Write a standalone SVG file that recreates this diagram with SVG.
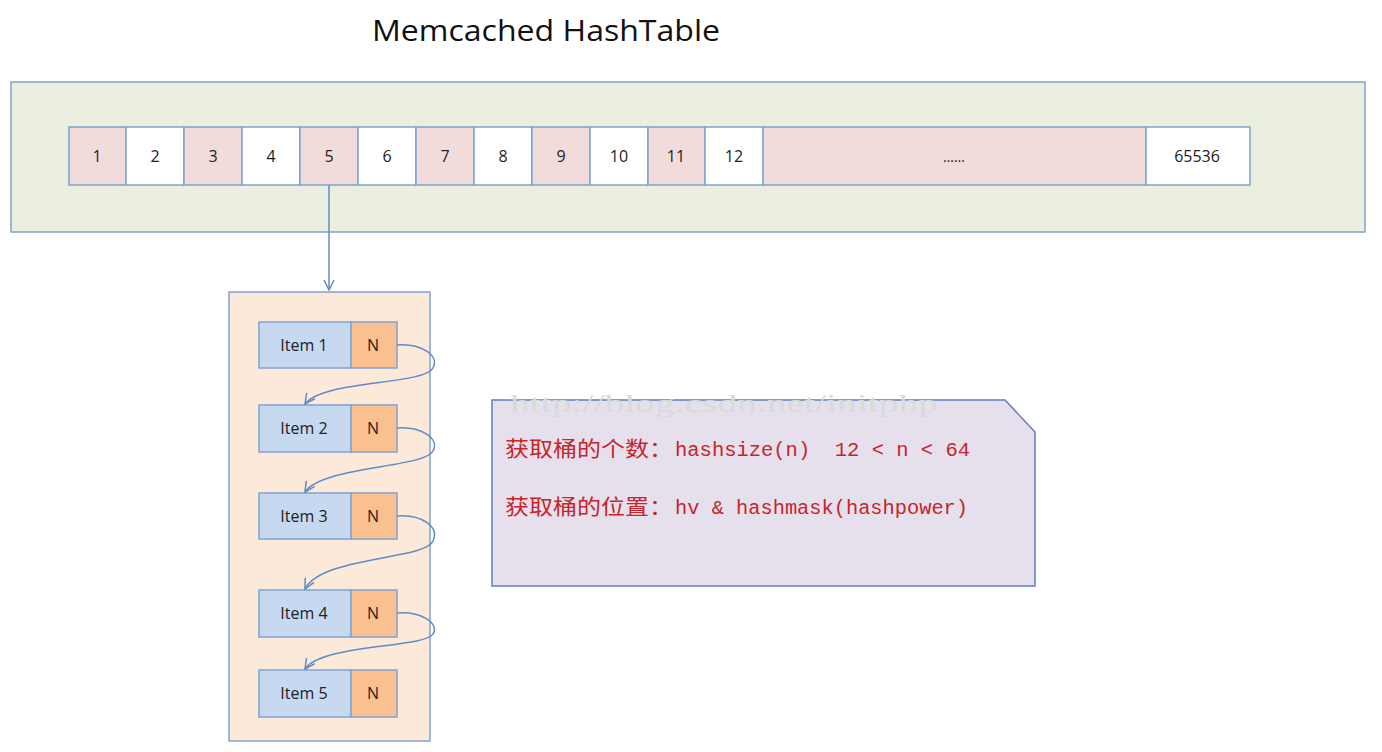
<svg xmlns="http://www.w3.org/2000/svg" width="1382" height="752" viewBox="0 0 1382 752">
<style>
.cell{stroke:#7fa3d0;stroke-width:1.5}
.pk{fill:#f2dcdb}
.wh{fill:#ffffff}
.ct{font-family:"Open Sans","Liberation Sans",sans-serif;font-size:16px;fill:#222;text-anchor:middle}
.item{fill:#c6d9f1;stroke:#7fa3d0;stroke-width:1.5}
.nb{fill:#fac090;stroke:#7fa3d0;stroke-width:1.5}
.conn{fill:none;stroke:#5f8cc4;stroke-width:1.5}
.cn{font-family:"Noto Sans CJK SC",sans-serif;font-size:21px;fill:#c8242c}
.mono{font-family:"Liberation Mono","DejaVu Sans Mono",monospace;font-size:20px;fill:#c8242c}
</style>
<defs>
<marker id="arr" viewBox="0 0 12 12" refX="11" refY="6" markerWidth="12" markerHeight="12" markerUnits="userSpaceOnUse" orient="auto">
<path d="M1,1 L11,6 L1,11" fill="none" stroke="#5f8cc4" stroke-width="1.5"/>
</marker>
</defs>
<rect width="1382" height="752" fill="#ffffff"/>
<text x="372" y="41" font-family="'Open Sans','Liberation Sans',sans-serif" font-size="30" fill="#111" textLength="348" lengthAdjust="spacingAndGlyphs">Memcached HashTable</text>

<g id="hashtable">
<rect x="11" y="82" width="1354" height="150" fill="#ebefdf" stroke="#7fa3d0" stroke-width="1.5"/>
<rect class="cell pk" x="69" y="127" width="57" height="58"/><text class="ct" x="97" y="162">1</text>
<rect class="cell wh" x="126" y="127" width="58" height="58"/><text class="ct" x="155" y="162">2</text>
<rect class="cell pk" x="184" y="127" width="58" height="58"/><text class="ct" x="213" y="162">3</text>
<rect class="cell wh" x="242" y="127" width="58" height="58"/><text class="ct" x="271" y="162">4</text>
<rect class="cell pk" x="300" y="127" width="58" height="58"/><text class="ct" x="329" y="162">5</text>
<rect class="cell wh" x="358" y="127" width="58" height="58"/><text class="ct" x="387" y="162">6</text>
<rect class="cell pk" x="416" y="127" width="58" height="58"/><text class="ct" x="445" y="162">7</text>
<rect class="cell wh" x="474" y="127" width="58" height="58"/><text class="ct" x="503" y="162">8</text>
<rect class="cell pk" x="532" y="127" width="58" height="58"/><text class="ct" x="561" y="162">9</text>
<rect class="cell wh" x="590" y="127" width="58" height="58"/><text class="ct" x="619" y="162">10</text>
<rect class="cell pk" x="648" y="127" width="57" height="58"/><text class="ct" x="676" y="162">11</text>
<rect class="cell wh" x="705" y="127" width="58" height="58"/><text class="ct" x="734" y="162">12</text>
<rect class="cell pk" x="763" y="127" width="383" height="58"/><text class="ct" x="954" y="162" style="font-size:14px">……</text>
<rect class="cell wh" x="1146" y="127" width="104" height="58"/><text class="ct" x="1197" y="162">65536</text>
</g>

<g id="list">
<rect x="229" y="292" width="201" height="449" fill="#fde9d9" stroke="#7fa3d0" stroke-width="1.5"/>
</g>
<g id="item1"><rect class="item" x="259" y="322" width="92" height="46"/><rect class="nb" x="351" y="322" width="46" height="46"/><text class="ct" x="304" y="351">Item 1</text><text class="ct" x="373" y="351">N</text></g>
<g id="item2"><rect class="item" x="259" y="405" width="92" height="47"/><rect class="nb" x="351" y="405" width="46" height="47"/><text class="ct" x="304" y="434">Item 2</text><text class="ct" x="373" y="434">N</text></g>
<g id="item3"><rect class="item" x="259" y="493" width="92" height="46"/><rect class="nb" x="351" y="493" width="46" height="46"/><text class="ct" x="304" y="522">Item 3</text><text class="ct" x="373" y="522">N</text></g>
<g id="item4"><rect class="item" x="259" y="590" width="92" height="47"/><rect class="nb" x="351" y="590" width="46" height="47"/><text class="ct" x="304" y="619">Item 4</text><text class="ct" x="373" y="619">N</text></g>
<g id="item5"><rect class="item" x="259" y="670" width="92" height="47"/><rect class="nb" x="351" y="670" width="46" height="47"/><text class="ct" x="304" y="699">Item 5</text><text class="ct" x="373" y="699">N</text></g>

<g id="connectors">
<path class="conn" d="M329,185 L329,290" marker-end="url(#arr)"/>
<path class="conn" d="M397,345 C420,343 440,355 433,368 C425,385 322,380 305,404" marker-end="url(#arr)"/>
<path class="conn" d="M397,428 C420,426 440,438 433,451 C425,468 322,466 305,492" marker-end="url(#arr)"/>
<path class="conn" d="M397,516 C420,514 440,526 433,541 C425,560 322,556 305,589" marker-end="url(#arr)"/>
<path class="conn" d="M397,613 C420,611 440,623 433,634 C425,648 322,644 305,669" marker-end="url(#arr)"/>
</g>

<g id="note">
<path d="M492,400 L1005,400 L1035,432 L1035,586 L492,586 Z" fill="#e6e0ec" stroke="#5f80b8" stroke-width="1.5"/>
<text x="510" y="412" font-family="'Liberation Serif',serif" font-size="25" fill="#dadada" textLength="428" lengthAdjust="spacingAndGlyphs">http://blog.csdn.net/initphp</text>
<text class="cn" x="505" y="456" textLength="168" lengthAdjust="spacingAndGlyphs">获取桶的个数：</text>
<text class="mono" x="675" y="456" textLength="295" lengthAdjust="spacingAndGlyphs" xml:space="preserve">hashsize(n)  12 &lt; n &lt; 64</text>
<text class="cn" x="505" y="514" textLength="168" lengthAdjust="spacingAndGlyphs">获取桶的位置：</text>
<text class="mono" x="675" y="514" textLength="293" lengthAdjust="spacingAndGlyphs">hv &amp; hashmask(hashpower)</text>
</g>
</svg>
